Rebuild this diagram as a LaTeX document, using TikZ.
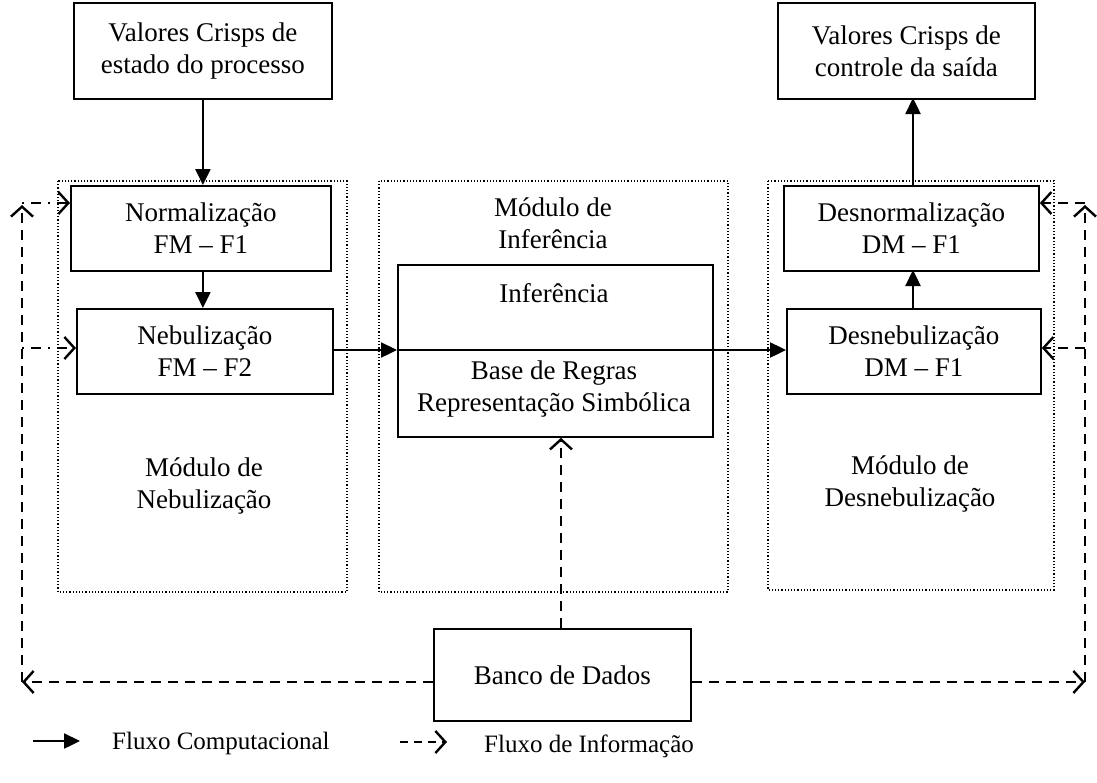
\documentclass[tikz,border=0pt]{standalone}
\usepackage{fontspec}
\setmainfont{Liberation Serif}
\usetikzlibrary{arrows.meta}
\begin{document}
\begin{tikzpicture}[x=1pt,y=-1pt,
  txt/.style={font=\fontsize{27}{32}\selectfont,align=center,inner sep=0pt},
  leg/.style={font=\fontsize{25}{30}\selectfont,inner sep=0pt,anchor=west},
  box/.style={draw,line width=1.8pt,anchor=north west,inner sep=0pt},
  module/.style={draw,dotted,line width=1.2pt},
  comp/.style={line width=2.4pt,-{Triangle[length=16pt,width=15pt]}},
  info/.style={line width=2.4pt,dash pattern=on 10pt off 7pt,-{Straight Barb[length=10pt,width=22pt,line width=2.4pt]}},
  infod/.style={line width=2.4pt,dash pattern=on 2pt off 7pt on 10pt off 7pt,-{Straight Barb[length=10pt,width=22pt,line width=2.4pt]}}]
\useasboundingbox (0,0) rectangle (1097,782);
% modules
\draw[module] (58,181) rectangle (347,592);
\draw[module] (379,181) rectangle (728,592);
\draw[module] (768,181) rectangle (1054,590);
% boxes
\node[box,minimum width=258pt,minimum height=96pt] (vin) at (73,2) {};
\node[txt] at (vin.center) {Valores Crisps de\\estado do processo};
\node[box,minimum width=257pt,minimum height=96pt] (vout) at (777,2) {};
\node[txt] at (vout.center) {Valores Crisps de\\controle da saída};
\node[box,minimum width=260pt,minimum height=85pt] (norm) at (70,185) {};
\node[txt] at (norm.center) {Normalização\\FM – F1};
\node[box,minimum width=256pt,minimum height=85pt] (neb) at (76,308) {};
\node[txt] at (neb.center) {Nebulização\\FM – F2};
\node[box,minimum width=255pt,minimum height=85pt] (dnorm) at (783,185) {};
\node[txt] at (dnorm.center) {Desnormalização\\DM – F1};
\node[box,minimum width=254pt,minimum height=85pt] (dneb) at (786,308) {};
\node[txt] at (dneb.center) {Desnebulização\\DM – F1};
\node[box,minimum width=315pt,minimum height=172pt] (inf) at (397,264) {};
\node[txt] (inft) at (554,293) {Inferência};
\node[txt] (base) at (554,389) {Base de Regras\\Representação Simbólica};
\node[box,minimum width=257pt,minimum height=92pt] (bd) at (433,628) {};
\node[txt] at (bd.center) {Banco de Dados};
% module labels
\node[txt] (minf) at (553,223) {Módulo de\\Inferência};
\node[txt] (mneb) at (204,486) {Módulo de\\Nebulização};
\node[txt] (mdneb) at (910,484) {Módulo de\\Desnebulização};
% computational flow
\draw[comp] (vin.south) -- (vin.south |- norm.north);
\draw[comp] (vin.south |- norm.south) -- (vin.south |- neb.north);
\draw[comp] (neb.east |- 0,350) -- (inf.west |- 0,350);
\draw[comp] (inf.west |- 0,350) -- (dneb.west |- 0,350);
\draw[comp] (913,308) -- (913,270);
\draw[comp] (913,185) -- (913,98);
% information flow
\coordinate (bl) at (22,682);
\coordinate (br) at (1085,682);
\coordinate (tl) at (22,205);
\coordinate (tr) at (1085,205);
\draw[info] (bd.west |- bl) -- (bl);
\draw[info] (bl) -- (tl);
\draw[infod] (22,203) -- (norm.west |- 0,203);
\draw[infod] (22,348) -- (neb.west |- 0,348);
\draw[info] (bd.east |- br) -- (br);
\draw[info] (br) -- (tr);
\draw[info] (1085,203) -- (dnorm.east |- 0,203);
\draw[info] (1085,348) -- (dneb.east |- 0,348);
\draw[info] (bd.north -| 561,0) -- (inf.south -| 561,0);
% legend
\draw[comp] (33,741) -- (80,741);
\node[leg] (l1) at (112,743) {Fluxo Computacional};
\draw[info,dash pattern=on 8pt off 6pt] (400,742) -- (447,742);
\node[leg] (l2) at (484,746) {Fluxo de Informação};
\end{tikzpicture}
\end{document}
